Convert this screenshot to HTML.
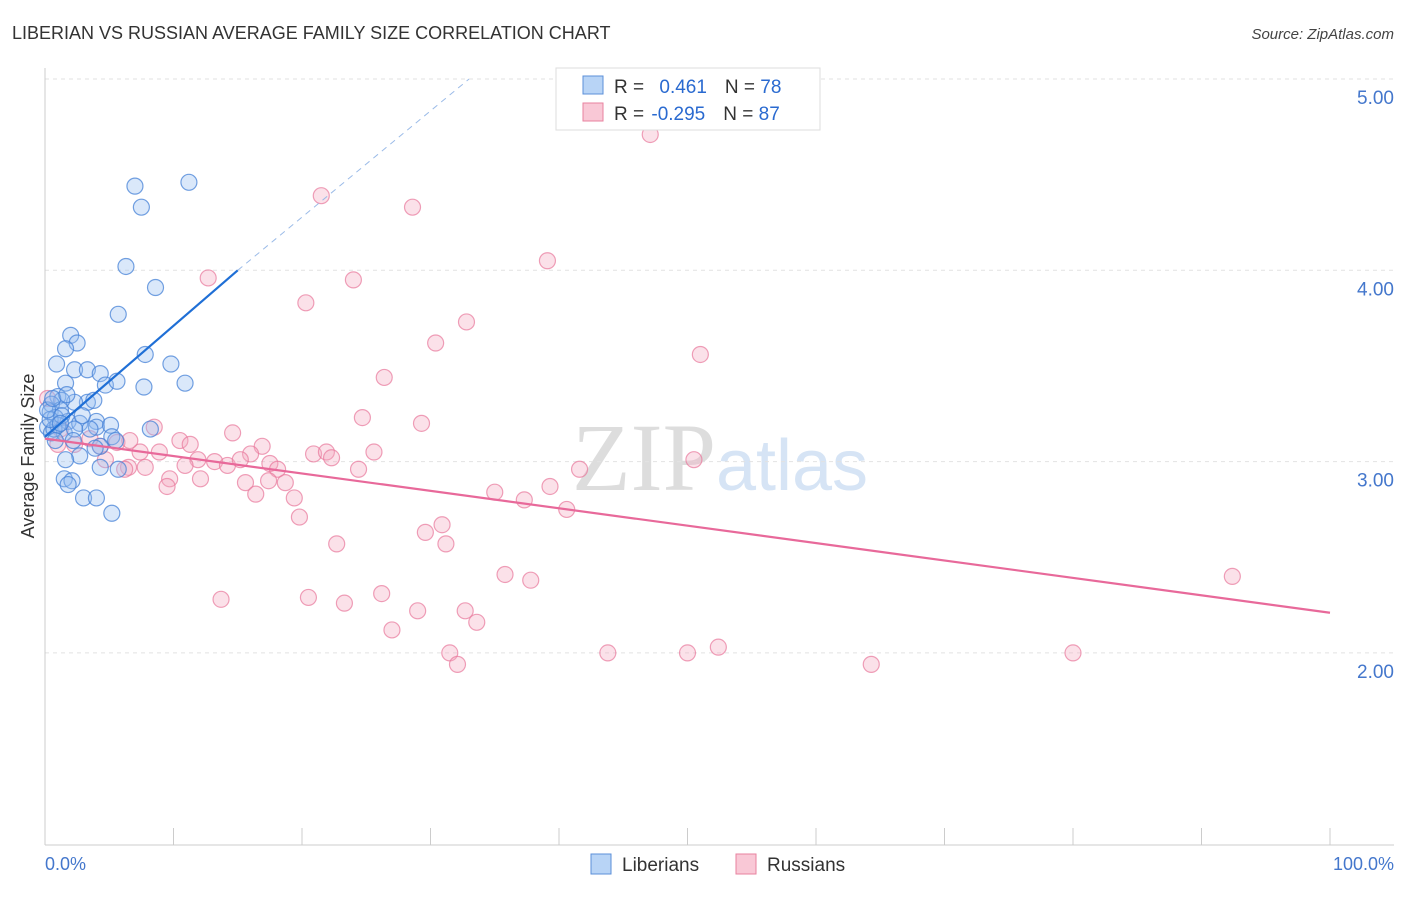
<!DOCTYPE html>
<html><head><meta charset="utf-8"><style>
body{margin:0;background:#fff;font-family:"Liberation Sans",sans-serif;}
svg text{font-family:"Liberation Sans",sans-serif;}
</style></head><body>
<svg id="chart" width="1406" height="892" xmlns="http://www.w3.org/2000/svg">
<text x="12" y="39" font-size="18" fill="#333">LIBERIAN VS RUSSIAN AVERAGE FAMILY SIZE CORRELATION CHART</text>
<text x="1394" y="39" font-size="15" fill="#444" text-anchor="end" font-style="italic">Source: ZipAtlas.com</text>
<text x="720" y="490" font-size="96" fill="#e8e8e8" text-anchor="middle" font-family="Liberation Serif"><tspan fill="#dddddd" font-family="Liberation Serif">ZIP</tspan><tspan fill="#d6e4f5" font-family="Liberation Sans" font-size="72">atlas</tspan></text>
<g id="grid"></g>
<g id="axes"></g>
<g id="pts"></g>
<g id="lines"></g>
<text transform="translate(34,456) rotate(-90)" font-size="18" fill="#333" text-anchor="middle">Average Family Size</text>
<text x="45" y="870" font-size="18" fill="#4477cc">0.0%</text>
<text x="1394" y="870" font-size="18" fill="#4477cc" text-anchor="end">100.0%</text>
<g>
<rect x="556" y="68" width="264" height="62" fill="#fff" stroke="#ddd"/>
<rect x="583" y="76" width="20" height="18" fill="#b8d4f6" stroke="#5b8fd8"/>
<rect x="583" y="103" width="20" height="18" fill="#f9c8d6" stroke="#e8829f"/>
<text x="614" y="93" font-size="19" fill="#333">R =  <tspan fill="#2a6ad0" dx="10">0.461</tspan><tspan dx="18">N = </tspan><tspan fill="#2a6ad0">78</tspan></text>
<text x="614" y="120" font-size="19" fill="#333">R = <tspan fill="#2a6ad0" dx="2">-0.295</tspan><tspan dx="18">N = </tspan><tspan fill="#2a6ad0">87</tspan></text>
</g>
<g>
<rect x="591" y="854" width="20" height="20" fill="#b8d4f6" stroke="#5b8fd8"/>
<text x="622" y="871" font-size="19" fill="#333">Liberians</text>
<rect x="736" y="854" width="20" height="20" fill="#f9c8d6" stroke="#e8829f"/>
<text x="767" y="871" font-size="19" fill="#333">Russians</text>
</g>
</svg>
<script>
const yTicks=[2,3,4,5];
const yTickLabels=["2.00","3.00","4.00","5.00"];
const blueX=[7.0,11.2,7.5,6.3,8.6,5.7,2.0,2.5,1.6,0.9,7.8,9.8,2.3,3.3,4.3,1.6,4.7,5.6,7.7,10.9,1.0,3.3,3.8,2.3,1.3,0.5,0.4,1.2,0.8,1.8,2.7,4.0,4.0,3.5,5.1,8.2,0.2,0.5,1.5,2.3,5.2,5.5,4.3,3.9,2.7,1.6,4.3,5.7,1.5,2.1,1.8,3.0,4.0,5.2,0.7,1.0,0.4,0.2,1.3,0.8,2.2,1.2,2.9,0.6,1.7];
const blueY=[4.44,4.46,4.33,4.02,3.91,3.77,3.66,3.62,3.59,3.51,3.56,3.51,3.48,3.48,3.46,3.41,3.40,3.42,3.39,3.41,3.34,3.31,3.32,3.31,3.32,3.30,3.26,3.27,3.23,3.21,3.20,3.21,3.18,3.17,3.19,3.17,3.18,3.15,3.15,3.17,3.13,3.11,3.08,3.07,3.03,3.01,2.97,2.96,2.91,2.90,2.88,2.81,2.81,2.73,3.17,3.19,3.22,3.27,3.24,3.11,3.11,3.20,3.24,3.33,3.35];
const pinkX=[47.1,21.5,28.6,39.1,12.7,24.0,20.3,32.8,30.4,51.0,26.4,0.2,24.7,29.3,8.5,14.6,10.5,11.3,16.9,5.6,2.3,4.3,1.0,7.4,8.9,20.9,21.9,25.6,16.0,13.2,11.9,10.9,14.2,15.2,17.5,22.3,24.4,18.1,50.5,41.6,6.5,7.8,9.7,9.5,12.1,15.6,17.4,18.7,16.4,19.4,19.8,35.0,37.3,39.3,40.6,30.9,29.6,31.2,22.7,35.8,37.8,92.4,13.7,20.5,23.3,26.2,29.0,32.7,33.6,27.0,31.5,32.1,43.8,50.0,52.4,64.3,80.0,3.5,6.6,1.2,4.7,6.2];
const pinkY=[4.71,4.39,4.33,4.05,3.96,3.95,3.83,3.73,3.62,3.56,3.44,3.33,3.23,3.20,3.18,3.15,3.11,3.09,3.08,3.10,3.09,3.08,3.09,3.05,3.05,3.04,3.05,3.05,3.04,3.00,3.01,2.98,2.98,3.01,2.99,3.02,2.96,2.96,3.01,2.96,2.97,2.97,2.91,2.87,2.91,2.89,2.90,2.89,2.83,2.81,2.71,2.84,2.80,2.87,2.75,2.67,2.63,2.57,2.57,2.41,2.38,2.40,2.28,2.29,2.26,2.31,2.22,2.22,2.16,2.12,2.00,1.94,2.00,2.00,2.03,1.94,2.00,3.12,3.11,3.17,3.01,2.96];
const blueLine={x0:0,y0:3.13,x1:15,y1:4.0,xd:33,yd:5.0};
const pinkLine={x0:0,y0:3.12,x1:100,y1:2.21};
const sx=v=>45+v*12.85;
const sy=v=>79+(5-v)*191.3;
const NS="http://www.w3.org/2000/svg";
function mk(tag,attrs,parent){const e=document.createElementNS(NS,tag);for(const k in attrs)e.setAttribute(k,attrs[k]);parent.appendChild(e);return e;}
const grid=document.getElementById('grid'),axes=document.getElementById('axes'),pts=document.getElementById('pts'),lines=document.getElementById('lines');
yTicks.forEach((t,i)=>{
 const l=mk('line',{x1:45,x2:1394,y1:sy(t),y2:sy(t),stroke:'#e2e2e2','stroke-dasharray':'4,4'},grid);
 
 
 const tx=mk('text',{x:1394,y:sy(t)+25,'font-size':19,fill:'#4477cc','text-anchor':'end'},grid);
 tx.textContent=yTickLabels[i];
 
 
});
mk('line',{x1:45,x2:1394,y1:845,y2:845,stroke:'#ccc'},axes);
mk('line',{x1:45,x2:45,y1:68,y2:845,stroke:'#ccc'},axes);
for(let i=0;i<=10;i++){
 const t=mk('line',{x1:sx(i*10),x2:sx(i*10),y1:828,y2:845,stroke:'#ccc'},axes);
 
 
}
pinkX.forEach((x,i)=>{
 const c=mk('circle',{cx:sx(x),cy:sy(pinkY[i]),r:8,fill:'rgba(244,170,192,0.35)',stroke:'rgba(232,120,155,0.7)','stroke-width':1.2},pts);
 
 
});
blueX.forEach((x,i)=>{
 const c=mk('circle',{cx:sx(x),cy:sy(blueY[i]),r:8,fill:'rgba(150,190,240,0.35)',stroke:'rgba(70,130,215,0.75)','stroke-width':1.2},pts);
 
 
});
const bl=mk('line',{x1:sx(blueLine.x0),y1:sy(blueLine.y0),x2:sx(blueLine.x1),y2:sy(blueLine.y1),stroke:'#1f6fd6','stroke-width':2.2},lines);


const bd=mk('line',{x1:sx(blueLine.x1),y1:sy(blueLine.y1),x2:sx(blueLine.xd),y2:sy(blueLine.yd),stroke:'#9bbbe8','stroke-width':1,'stroke-dasharray':'6,5'},lines);


const pl=mk('line',{x1:sx(pinkLine.x0),y1:sy(pinkLine.y0),x2:sx(pinkLine.x1),y2:sy(pinkLine.y1),stroke:'#e8699a','stroke-width':2.2},lines);


</script>
</body></html>
